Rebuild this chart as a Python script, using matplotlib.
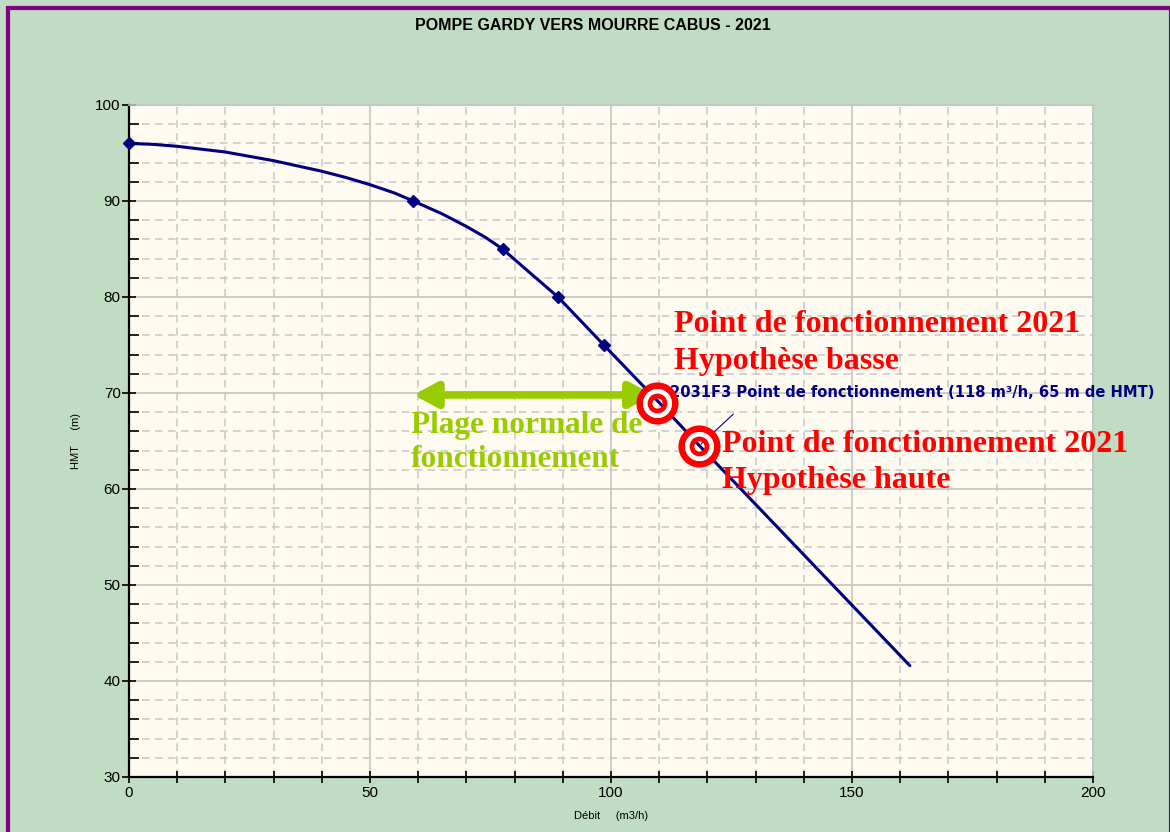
import numpy as np
import matplotlib
matplotlib.use("Agg")
from matplotlib import pyplot as plt
from matplotlib.patches import Rectangle
from matplotlib.ticker import MultipleLocator

# pump curve (debit m3/h, HMT m)
debit = [0, 5, 10, 20, 30, 40, 45, 50, 55, 59, 65, 70, 74, 77.5, 83, 89, 98.5, 110, 118, 162]
hmt = [96, 95.9, 95.7, 95.1, 94.2, 93.1, 92.45, 91.7, 90.85, 90, 88.65, 87.35, 86.2, 85, 82.6, 80, 75, 69, 64.7, 41.6]
# points that carry a marker
mark_debit = [0, 59, 77.5, 89, 98.5]
mark_hmt = [96, 90, 85, 80, 75]
# operating points 2021 (basse, haute)
op_debit = [109.5, 118.3]
op_hmt = [69.0, 64.5]
# normal range arrow
plage = (59, 108.8)
plage_hmt = 69.8

navy = "#000080"
red = "#ff0000"
green = "#99cc00"

W, H, dpi = 1170, 832, 100
fig = plt.figure(figsize=(W / dpi, H / dpi), dpi=dpi, facecolor="#c0dcc2")
fig.patches.append(Rectangle((8 / W, -0.05), (1171 - 8) / W, 1.05 - 8 / H,
                             transform=fig.transFigure, fill=False,
                             edgecolor="#800080", lw=3.0, zorder=10))

ax = fig.add_axes([129 / W, 55 / H, 964 / W, 672 / H], facecolor="#fffbf0")
ax.set_xlim(0, 200)
ax.set_ylim(30, 100)

ax.xaxis.set_major_locator(MultipleLocator(50))
ax.xaxis.set_minor_locator(MultipleLocator(10))
ax.yaxis.set_major_locator(MultipleLocator(10))
ax.yaxis.set_minor_locator(MultipleLocator(2))
ax.grid(which="major", color="#c4c4c4", lw=1.2, ls="-")
ax.grid(which="minor", color="#c8c8c8", lw=1.1, ls=(0, (5, 3.5)))
ax.set_axisbelow(True)

for s in ["top", "right"]:
    ax.spines[s].set_color("#c4c4c4")
    ax.spines[s].set_linewidth(1.2)
for s in ["left", "bottom"]:
    ax.spines[s].set_color("black")
    ax.spines[s].set_linewidth(1.6)

ax.tick_params(axis="x", which="both", direction="inout", length=9, width=1.2,
               labelsize=11, pad=2)
ax.tick_params(axis="y", which="major", direction="inout", length=10, width=1.2,
               labelsize=11, pad=1)
ax.tick_params(axis="y", which="minor", direction="in", length=7, width=1.2)
for lab in ax.get_xticklabels() + ax.get_yticklabels():
    lab.set_fontfamily("Liberation Sans")

ax.set_xlabel("Débit     (m3/h)", fontsize=8, family="Liberation Sans", labelpad=8)
ax.set_ylabel("HMT     (m)", fontsize=8, family="Liberation Sans", labelpad=10)

fig.text(593 / W, 1 - 26 / H, "POMPE GARDY VERS MOURRE CABUS - 2021",
         ha="center", va="center", fontsize=11.5, fontweight="bold",
         family="Liberation Sans")

# curve
ax.plot(debit, hmt, color=navy, lw=2.2, zorder=3, solid_capstyle="round",
        solid_joinstyle="round")
ax.plot(mark_debit, mark_hmt, ls="none", marker="D", ms=6.5, color=navy,
        zorder=4, clip_on=False)

# leader line and label
ax.annotate("", xy=(op_debit[1], op_hmt[1]), xytext=(125.8, 68.0),
            arrowprops=dict(arrowstyle="-", color=navy, lw=0.8), zorder=4)
ax.text(112.3, 100 - (397 - 105) / 9.6,
        "2031F3 Point de fonctionnement (118 m³/h, 65 m de HMT)",
        color=navy, fontsize=10.6, fontweight="bold", family="DejaVu Sans",
        va="baseline", ha="left", zorder=5)

# target rings on operating points
ax.plot(op_debit, op_hmt, ls="none", marker="o", ms=25.5, mfc="none",
        mec=red, mew=4.8, zorder=6)
ax.plot(op_debit, op_hmt, ls="none", marker="o", ms=17.5, mfc="none",
        mec="white", mew=3.4, zorder=6)
ax.plot(op_debit, op_hmt, ls="none", marker="o", ms=10.8, mfc="none",
        mec=red, mew=3.4, zorder=6)

# red annotations
serif = "Liberation Serif"
def ypx(p):
    return 100 - (p - 105) / 9.6
ax.text(113.1, ypx(332), "Point de fonctionnement 2021", color=red, fontsize=23,
        fontweight="bold", family=serif, va="baseline", zorder=7)
ax.text(113.1, ypx(369), "Hypothèse basse", color=red, fontsize=23,
        fontweight="bold", family=serif, va="baseline", zorder=7)
ax.text(123.0, ypx(452), "Point de fonctionnement 2021", color=red, fontsize=23,
        fontweight="bold", family=serif, va="baseline", zorder=7)
ax.text(123.0, ypx(488), "Hypothèse haute", color=red, fontsize=23,
        fontweight="bold", family=serif, va="baseline", zorder=7)

# normal range
ax.annotate("", xy=(plage[1], plage_hmt), xytext=(plage[0], plage_hmt),
            arrowprops=dict(arrowstyle="<|-|>,head_length=1.4,head_width=0.75",
                            color=green, lw=5.5, shrinkA=0, shrinkB=0), zorder=5)
ax.text(58.5, ypx(433), "Plage normale de", color=green, fontsize=22.5,
        fontweight="bold", family=serif, va="baseline", zorder=7)
ax.text(58.5, ypx(467), "fonctionnement", color=green, fontsize=22.5,
        fontweight="bold", family=serif, va="baseline", zorder=7)

fig.savefig("out.png", dpi=dpi, facecolor=fig.get_facecolor())
